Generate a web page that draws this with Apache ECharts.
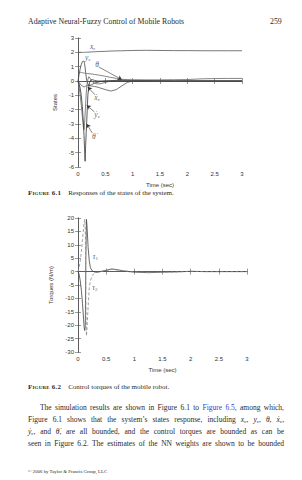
<!DOCTYPE html>
<html>
<head>
<meta charset="utf-8">
<script src="https://cdn.jsdelivr.net/npm/echarts@6/dist/echarts.min.js"></script>
<style>
html, body { margin: 0; padding: 0; background: #fff; }
#page { position: relative; width: 302px; height: 480px; overflow: hidden; font-family: "Liberation Serif", "DejaVu Serif", serif; color: #2a2a2a; }
#chart { position: absolute; left: 0; top: 0; width: 302px; height: 480px; }
.t { position: absolute; white-space: nowrap; line-height: 10px; }
.cap b { font-variant: small-caps; font-weight: bold; letter-spacing: 0.2px; }
.para { position: absolute; left: 28px; width: 256px; font-size: 7.5px; line-height: 10px; text-align: justify; text-align-last: justify; }
.para sub { font-size: 5px; vertical-align: -1px; line-height: 0; }
.link { color: #3340d6; }
</style>
</head>
<body>
<div id="page">
  <div id="chart"></div>
  <div class="t" style="left:28px;top:17px;font-size:7.8px;">Adaptive Neural-Fuzzy Control of Mobile Robots</div>
  <div class="t" style="left:270px;top:17px;font-size:7.8px;">259</div>
  <div class="t cap" style="left:28px;top:188px;font-size:7px;"><b>Figure 6.1</b>&nbsp;&nbsp;&nbsp; Responses of the states of the system.</div>
  <div class="t cap" style="left:28px;top:382px;font-size:7px;"><b>Figure 6.2</b>&nbsp;&nbsp;&nbsp; Control torques of the mobile robot.</div>
  <div class="para" style="left:40px;width:244px;top:403px;">The simulation results are shown in Figure 6.1 to <span class="link">Figure 6.5</span>, among which,</div>
  <div class="para" style="top:415px;">Figure 6.1 shows that the system’s states response, including <i>x</i><sub>c</sub>, <i>y</i><sub>c</sub>, <i>θ</i>, <i>ẋ</i><sub>c</sub>,</div>
  <div class="para" style="top:427px;"><i>ẏ</i><sub>c</sub>, and <i>θ̇</i>, are all bounded, and the control torques are bounded as can be</div>
  <div class="para" style="top:439px;">seen in Figure 6.2. The estimates of the NN weights are shown to be bounded</div>
  <div class="t" style="left:28px;top:467px;font-size:4.8px;">© 2006 by Taylor &amp; Francis Group, LLC</div>
</div>
<script>
// time samples (sec), shared by both figures
const t = [0, 0.02, 0.04, 0.06, 0.08, 0.1, 0.11, 0.12, 0.13, 0.14, 0.15, 0.16, 0.18, 0.2, 0.22, 0.25, 0.3, 0.35, 0.4, 0.5, 0.6, 0.7, 0.8, 0.9, 1.0, 1.25, 1.5, 1.75, 2.0, 2.25, 2.5, 2.75, 3.0];

// Figure 6.1 states
const xc  = [2.0, 2.0, 2.0, 2.0, 2.0, 2.0, 2.0, 2.0, 2.0, 2.01, 2.01, 2.01, 2.01, 2.02, 2.02, 2.03, 2.04, 2.05, 2.06, 2.07, 2.09, 2.1, 2.11, 2.12, 2.13, 2.14, 2.13, 2.12, 2.12, 2.11, 2.11, 2.11, 2.11];
const yc  = [0, 0.45, 0.85, 1.15, 1.35, 1.4, 1.35, 1.2, 0.95, 0.6, 0.3, 0.05, -0.2, -0.3, -0.3, -0.25, -0.15, -0.1, -0.05, 0, 0.02, 0.03, 0.03, 0.02, 0.02, 0.01, 0, 0, 0, 0, 0, 0, 0];
const th  = [0.5, 0.55, 0.6, 0.6, 0.58, 0.56, 0.55, 0.55, 0.54, 0.54, 0.53, 0.53, 0.52, 0.51, 0.5, 0.49, 0.46, 0.43, 0.4, 0.33, 0.25, 0.18, 0.12, 0.1, 0.09, 0.08, 0.08, 0.09, 0.1, 0.15, 0.17, 0.18, 0.18];
const dxc = [0, -0.1, -0.2, -0.3, -0.35, -0.4, -0.4, -0.4, -0.38, -0.36, -0.35, -0.34, -0.32, -0.32, -0.33, -0.35, -0.38, -0.42, -0.48, -0.6, -0.7, -0.6, -0.35, -0.1, 0, 0.03, 0.02, 0, 0, 0, 0, 0, 0];
const dyc = [0, -0.4, -1.0, -1.7, -2.5, -3.3, -3.4, -3.0, -2.3, -1.6, -0.9, -0.4, 0.1, 0.3, 0.2, 0, -0.15, -0.2, -0.2, -0.1, 0, 0.05, 0.08, 0.05, 0.02, 0, -0.02, -0.02, 0, 0, 0, 0, 0];
const dth = [0, -0.2, -0.5, -1.0, -1.8, -3.0, -3.8, -4.7, -5.6, -4.5, -3.6, -2.8, -1.0, -0.3, 0, 0.1, 0.05, 0, 0, 0, 0, 0, 0, 0, 0, 0, 0, 0, 0, 0, 0, 0, 0];

// Figure 6.2 torques
const tau1 = [0, -1, -3.5, -7, -12, -18, -21, -22, -20, 5, 19.5, 17, 9, 4, 1.5, 0.3, -0.2, -0.2, 0, 0.5, 1.0, 0.7, 0.3, 0, -0.2, -0.4, -0.2, -0.1, 0.1, 0, 0, 0, 0];
const tau2 = [0, 1.5, 4, 7.5, 12, 16.5, 18.5, 19.5, 15, -10, -24, -21, -13, -6, -3.5, -1.5, -0.5, -0.2, 0, 0.4, 0.8, 0.6, 0.3, 0.1, -0.1, -0.3, -0.2, -0.1, 0.1, 0, 0, 0, 0];

// annotations: [time, value, text]
const topNotes = [[0.27, 2.39, '{i|x}{s|c}'], [0.18, 1.62, '{i|y}{s|c}'], [0.35, 1.13, '{i|θ}'], [0.35, -1.17, '{i|ẋ}{s|c}'], [0.35, -2.37, '{i|ẏ}{s|c}'], [0.29, -3.9, '{i|θ̇}']];
const topArrows = [[0.38, 0.98, 0.8, 0.1], [0.31, -0.96, 0.18, -0.42], [0.3, -2.15, 0.16, -1.7], [0.26, -3.62, 0.16, -3.0]];
const botNotes = [[0.31, 5.5, '{i|τ}{s|1}'], [0.3, -5.8, '{i|τ}{s|2}']];

const axisCol = '#555';
const tickFont = { fontFamily: 'Liberation Sans', fontSize: 6, color: '#333' };
const rich = {
  i: { fontFamily: 'Liberation Serif', fontStyle: 'italic', fontSize: 7.5, color: '#333' },
  s: { fontFamily: 'Liberation Serif', fontSize: 5, color: '#333', verticalAlign: 'bottom', padding: [4, 0, 0, 0] }
};

function pairs(v) { return t.map((x, i) => [x, v[i]]); }

function xAxes(grid) {
  return [
    { gridIndex: grid, type: 'value', min: 0, max: 3, interval: 0.5, position: 'bottom',
      name: 'Time (sec)', nameLocation: 'middle', nameGap: 15, nameTextStyle: tickFont,
      axisLine: { lineStyle: { color: axisCol, width: 0.8 } },
      axisTick: { inside: true, length: 3, lineStyle: { color: axisCol, width: 0.6 } },
      axisLabel: Object.assign({ margin: 4 }, tickFont), splitLine: { show: false } },
    { gridIndex: grid, type: 'value', min: 0, max: 3, interval: 0.5, position: 'top',
      axisLine: { lineStyle: { color: axisCol, width: 0.8 } },
      axisTick: { inside: true, length: 3, lineStyle: { color: axisCol, width: 0.6 } },
      axisLabel: { show: false }, splitLine: { show: false } }
  ];
}
function yAxes(grid, min, max, step, name, gap) {
  return [
    { gridIndex: grid, type: 'value', min: min, max: max, interval: step, position: 'left',
      name: name, nameLocation: 'middle', nameRotate: 90, nameGap: gap, nameTextStyle: tickFont,
      axisLine: { lineStyle: { color: axisCol, width: 0.8 } },
      axisTick: { inside: true, length: 3, lineStyle: { color: axisCol, width: 0.6 } },
      axisLabel: Object.assign({ margin: 4 }, tickFont), splitLine: { show: false } },
    { gridIndex: grid, type: 'value', min: min, max: max, interval: step, position: 'right',
      axisLine: { lineStyle: { color: axisCol, width: 0.8 } },
      axisTick: { inside: true, length: 3, lineStyle: { color: axisCol, width: 0.6 } },
      axisLabel: { show: false }, splitLine: { show: false } }
  ];
}

function curve(name, v, xi, yi, color, dashed) {
  return { name: name, type: 'line', xAxisIndex: xi, yAxisIndex: yi, data: pairs(v),
    showSymbol: false, symbol: 'none', silent: true,
    lineStyle: { color: color, width: 0.8, type: dashed ? [3, 2] : 'solid' } };
}
function notes(list, arrows, xi, yi) {
  return { type: 'scatter', xAxisIndex: xi, yAxisIndex: yi, symbolSize: 0, silent: true,
    data: list.map(n => ({ value: [n[0], n[1]], text: n[2] })),
    label: { show: true, position: 'inside', formatter: p => p.data.text, rich: rich },
    markLine: { silent: true, symbol: ['none', 'arrow'], symbolSize: 4, animation: false,
      label: { show: false }, lineStyle: { color: '#333', width: 0.6, type: 'solid' },
      data: arrows.map(a => [{ coord: [a[0], a[1]] }, { coord: [a[2], a[3]] }]) } };
}

const chart = echarts.init(document.getElementById('chart'), null, { renderer: 'svg' });
chart.setOption({
  animation: false,
  grid: [
    { left: 78, top: 38, width: 164, height: 129 },
    { left: 78, top: 218, width: 169, height: 134 }
  ],
  xAxis: xAxes(0).concat(xAxes(1)),
  yAxis: yAxes(0, -6, 3, 1, 'States', 12).concat(yAxes(1, -30, 20, 5, 'Torques (N/m)', 17)),
  series: [
    curve('xc', xc, 0, 0, '#555'),
    curve('yc', yc, 0, 0, '#444'),
    curve('theta', th, 0, 0, '#666'),
    curve('dxc', dxc, 0, 0, '#555'),
    curve('dyc', dyc, 0, 0, '#666'),
    curve('dtheta', dth, 0, 0, '#333'),
    notes(topNotes, topArrows, 0, 0),
    curve('tau1', tau1, 2, 2, '#444'),
    curve('tau2', tau2, 2, 2, '#888', true),
    notes(botNotes, [], 2, 2)
  ]
});
</script>
</body>
</html>
